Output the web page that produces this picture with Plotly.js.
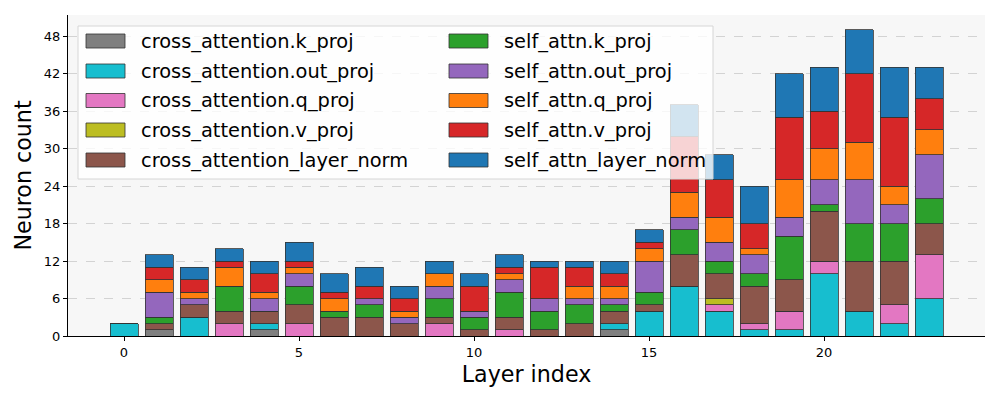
<!DOCTYPE html>
<html>
<head>
<meta charset="utf-8">
<script src="https://cdn.plot.ly/plotly-3.0.1.min.js"></script>
<style>html,body{margin:0;padding:0;background:#fff}#chart{width:1000px;height:400px}</style>
</head>
<body>
<div id="chart"></div>
<script>
// ---- data ----
const layers = [0,1,2,3,4,5,6,7,8,9,10,11,12,13,14,15,16,17,18,19,20,21,22,23];
const seriesNames = [
  "cross_attention.k_proj","cross_attention.out_proj","cross_attention.q_proj","cross_attention.v_proj","cross_attention_layer_norm",
  "self_attn.k_proj","self_attn.out_proj","self_attn.q_proj","self_attn.v_proj","self_attn_layer_norm"
];
const seriesColors = ["#7f7f7f","#17becf","#e377c2","#bcbd22","#8c564b","#2ca02c","#9467bd","#ff7f0e","#d62728","#1f77b4"];
const crossK   = [0,1,0,0,1,0,0,0,0,0,0,0,0,0,1,0,0,0,0,0,0,0,0,0];
const crossOut = [2,0,3,0,1,0,0,0,0,0,0,0,0,0,1,4,8,4,1,1,10,4,2,6];
const crossQ   = [0,0,0,2,0,2,0,0,0,2,0,1,0,0,0,0,0,1,1,3,2,0,3,7];
const crossV   = [0,0,0,0,0,0,0,0,0,0,0,0,0,0,0,0,0,1,0,0,0,0,0,0];
const crossLN  = [0,1,2,2,2,3,3,3,2,1,1,2,1,2,2,1,5,4,6,5,8,8,7,5];
const selfK    = [0,1,0,4,0,3,1,2,0,3,2,4,3,3,1,2,4,2,2,7,1,6,6,4];
const selfOut  = [0,4,1,0,2,2,0,1,1,2,1,2,2,1,1,5,2,3,3,3,4,7,3,7];
const selfQ    = [0,2,1,3,1,1,2,0,1,2,0,1,0,2,2,2,4,4,1,6,5,6,3,4];
const selfV    = [0,2,2,1,3,1,1,2,2,0,4,1,5,3,2,1,9,6,4,10,6,11,11,5];
const selfLN   = [0,2,2,2,2,3,3,3,2,2,2,2,1,1,2,2,5,4,6,7,7,7,8,5];
const yTicks = [0,6,12,18,24,30,36,42,48];
const xTicks = [0,5,10,15,20];

const seriesValues = [crossK, crossOut, crossQ, crossV, crossLN, selfK, selfOut, selfQ, selfV, selfLN];

const FONT = "DejaVu Sans, sans-serif";
const traces = seriesValues.map((vals, i) => ({
  type: "bar",
  x: layers,
  y: vals,
  name: seriesNames[i],
  width: 0.8,
  marker: {color: seriesColors[i], line: {color: "#333333", width: 0.8}},
  showlegend: false
}));

// plot area in pixels
const L = 68, R = 985, T = 15, B = 336;
const px = v => (v - L) / (R - L);
const py = v => (B - v) / (B - T);

const shapes = [];
const annotations = [];
// legend box
shapes.push({type: "rect", xref: "paper", yref: "paper", layer: "above",
  x0: px(78), x1: px(713), y0: py(179), y1: py(26),
  fillcolor: "rgba(255,255,255,0.8)", line: {color: "#d6d6d6", width: 1}});
const rowY = [41, 71, 100.5, 130, 160];
const colSw = [86, 449];
const colTx = [139, 502];
seriesNames.forEach((nm, i) => {
  const c = Math.floor(i / 5), r = i % 5;
  shapes.push({type: "rect", xref: "paper", yref: "paper", layer: "above",
    x0: px(colSw[c]), x1: px(colSw[c] + 39), y0: py(rowY[r] + 7), y1: py(rowY[r] - 7),
    fillcolor: seriesColors[i], line: {color: "#333333", width: 0.8}});
  annotations.push({xref: "paper", yref: "paper", x: px(colTx[c]), y: py(rowY[r]),
    xanchor: "left", yanchor: "middle", showarrow: false, text: nm,
    font: {family: FONT, size: 19.4, color: "#000"}});
});

const layout = {
  width: 1000, height: 400,
  margin: {l: L, r: 1000 - R, t: T, b: 400 - B},
  paper_bgcolor: "#ffffff",
  plot_bgcolor: "#f7f7f7",
  barmode: "stack",
  bargap: 0.2,
  font: {family: FONT, size: 13, color: "#000"},
  xaxis: {
    range: [-1.6, 24.6], tickvals: xTicks, ticktext: xTicks.map(String),
    showgrid: false, zeroline: false, showline: true, linecolor: "#000", linewidth: 1,
    ticks: "outside", ticklen: 4, tickwidth: 1, tickcolor: "#000",
    tickfont: {family: FONT, size: 13, color: "#000"},
    title: {text: "Layer index", font: {family: FONT, size: 22.2, color: "#000"}, standoff: 7}
  },
  yaxis: {
    range: [0, 51.36], tickvals: yTicks, ticktext: yTicks.map(String),
    showgrid: true, gridcolor: "#d3d3d3", griddash: "dash", gridwidth: 1,
    zeroline: false, showline: true, linecolor: "#000", linewidth: 1,
    ticks: "outside", ticklen: 4, tickwidth: 1, tickcolor: "#000",
    tickfont: {family: FONT, size: 13, color: "#000"},
    title: {text: "Neuron count", font: {family: FONT, size: 22.2, color: "#000"}, standoff: 6}
  },
  shapes: shapes,
  annotations: annotations,
  showlegend: false
};

Plotly.newPlot("chart", traces, layout, {displayModeBar: false, staticPlot: true});
</script>
</body>
</html>
